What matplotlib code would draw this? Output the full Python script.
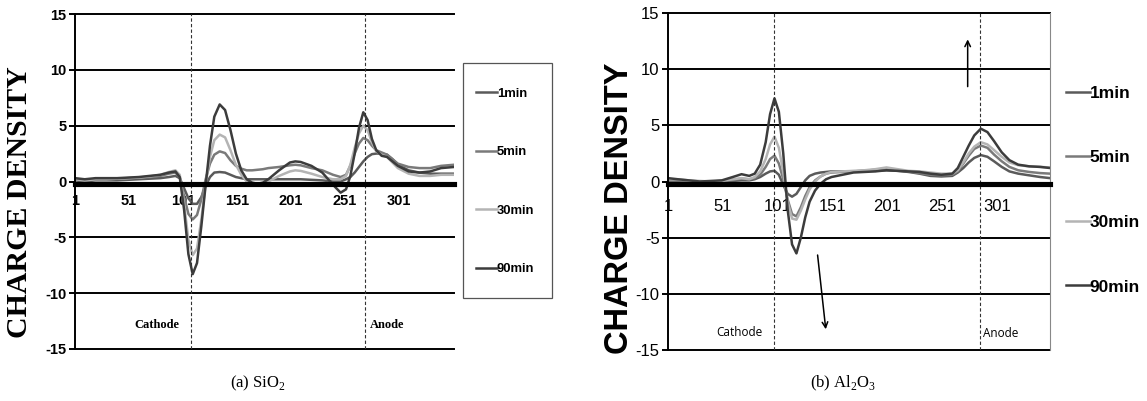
import matplotlib
matplotlib.use("Agg")
import matplotlib.pyplot as plt
from matplotlib.patches import Rectangle

plt.rcParams['mathtext.fontset'] = 'custom'
plt.rcParams['mathtext.rm'] = 'Liberation Serif'
plt.rcParams['axes.unicode_minus'] = False

series_names = ['1min', '5min', '30min', '90min']
colors = ['#5a5a5a', '#7a7a7a', '#b4b4b4', '#3c3c3c']
tick_pos = [1, 51, 101, 151, 201, 251, 301]
y_ticks = [-15, -10, -5, 0, 5, 10, 15]

# (a) SiO2
x_sio2 = [1, 10, 20, 30, 40, 50, 60, 70, 80, 88, 94, 98, 102, 106, 110, 114, 118, 122, 126, 130,
          135, 140, 145, 150, 155, 160, 165, 170, 175, 180, 190, 200, 205, 210, 220, 230, 240, 247,
          252, 256, 260, 264, 268, 272, 276, 280, 285, 290, 295, 300, 310, 320, 330, 340, 352]
sio2_1min = [0.1, 0.0, 0.1, 0.1, 0.1, 0.15, 0.2, 0.25, 0.3, 0.4, 0.5, 0.3, -0.6, -1.5, -2.0, -2.0, -1.4, -0.4, 0.4, 0.8,
             0.85, 0.8, 0.6, 0.4, 0.3, 0.2, 0.2, 0.2, 0.2, 0.2, 0.2, 0.2, 0.2, 0.2, 0.15, 0.1, 0.0, 0.0,
             0.2, 0.4, 0.8, 1.3, 1.8, 2.2, 2.45, 2.5, 2.5, 2.4, 2.0, 1.5, 1.0, 0.8, 0.7, 0.7, 0.7]
sio2_5min = [0.2, 0.1, 0.2, 0.2, 0.25, 0.3, 0.35, 0.4, 0.5, 0.7, 0.8, 0.4, -1.3, -2.9, -3.4, -3.0, -1.6, 0.2, 1.6, 2.4,
             2.7, 2.55, 1.9, 1.4, 1.15, 1.0, 1.0, 1.05, 1.1, 1.2, 1.3, 1.45, 1.5, 1.45, 1.2, 1.0, 0.6, 0.4,
             0.6, 1.4, 2.5, 3.4, 3.9, 3.7, 3.2, 2.8, 2.6, 2.4, 2.0, 1.6, 1.3, 1.2, 1.2, 1.4, 1.5]
sio2_30min = [0.2, 0.1, 0.2, 0.2, 0.25, 0.3, 0.35, 0.45, 0.6, 0.85, 1.0, 0.6, -2.0, -5.2, -6.6, -6.0, -3.4, -0.2, 2.2, 3.7,
              4.2, 3.95, 2.8, 1.5, 0.6, 0.0, -0.2, -0.3, -0.25, 0.0, 0.5, 0.9, 1.0, 0.95, 0.7, 0.4, 0.2, 0.2,
              0.5, 1.5, 3.0, 4.3, 5.0, 4.6, 3.5, 2.7, 2.4, 2.2, 1.7, 1.2, 0.7, 0.5, 0.5, 0.6, 0.6]
sio2_90min = [0.3, 0.2, 0.3, 0.3, 0.3, 0.35, 0.4, 0.5, 0.6, 0.8, 0.9, 0.4, -2.5, -6.5, -8.3, -7.3, -4.0, -0.3, 3.2, 5.8,
              6.9, 6.4, 4.6, 2.5, 1.0, 0.2, -0.1, -0.2, -0.1, 0.2, 1.0, 1.7, 1.8, 1.75, 1.4, 0.8, -0.3, -1.0,
              -0.7, 0.5, 2.5, 4.8, 6.2, 5.5, 3.8, 2.8, 2.3, 2.2, 1.8, 1.4, 0.9, 0.8, 0.9, 1.2, 1.3]

# (b) Al2O3
x_al2o3 = [1, 10, 20, 30, 40, 50, 60, 68, 75, 80, 85, 90, 94, 98, 102, 106, 110, 114, 118, 122, 126,
           130, 135, 140, 145, 150, 160, 170, 180, 190, 200, 210, 220, 230, 240, 250, 260, 265, 270,
           275, 280, 286, 292, 298, 305, 312, 320, 330, 340, 349]
al_1min = [0.0, 0.0, -0.05, -0.05, 0.0, 0.0, 0.05, 0.1, 0.1, 0.2, 0.4, 0.7, 0.9, 0.95, 0.6, -0.3, -1.1, -1.35, -1.1, -0.5, 0.1,
           0.5, 0.7, 0.8, 0.85, 0.9, 0.9, 0.9, 0.95, 0.95, 1.0, 0.95, 0.85, 0.7, 0.5, 0.45, 0.5, 0.8, 1.2,
           1.7, 2.1, 2.35, 2.2, 1.8, 1.3, 0.9, 0.7, 0.55, 0.4, 0.3]
al_5min = [0.1, 0.1, 0.0, 0.0, 0.0, 0.05, 0.15, 0.25, 0.2, 0.3, 0.6, 1.3, 2.0, 2.3, 1.6, 0.2, -1.6, -2.9, -3.1, -2.3, -1.3,
           -0.5, 0.1, 0.45, 0.7, 0.8, 0.85, 0.9, 0.95, 1.05, 1.15, 1.0, 0.9, 0.75, 0.6, 0.55, 0.6, 0.9, 1.6,
           2.3, 2.9, 3.2, 3.0, 2.4, 1.8, 1.3, 1.0, 0.85, 0.75, 0.7]
al_30min = [0.2, 0.2, 0.1, 0.05, 0.0, 0.05, 0.2, 0.3, 0.2, 0.4, 0.9, 2.0, 3.3, 4.0, 3.0, 0.8, -1.8, -3.3, -3.4, -2.6, -1.6,
            -0.7, 0.0, 0.45, 0.7, 0.85, 0.9, 0.95, 1.0, 1.1, 1.25, 1.1, 0.95, 0.9, 0.8, 0.7, 0.7, 1.0, 1.7,
            2.5, 3.1, 3.5, 3.3, 2.8, 2.2, 1.7, 1.45, 1.35, 1.3, 1.25]
al_90min = [0.3, 0.2, 0.1, 0.0, 0.05, 0.1, 0.4, 0.65, 0.5, 0.7, 1.5, 3.5, 6.0, 7.4, 6.2, 2.5, -2.5, -5.6, -6.4, -5.0, -3.2,
            -1.8, -0.8, -0.2, 0.2, 0.4, 0.6, 0.8, 0.85, 0.9, 1.0, 0.95, 0.9, 0.85, 0.7, 0.6, 0.7, 1.2, 2.2,
            3.2, 4.1, 4.7, 4.4, 3.6, 2.6, 1.9, 1.5, 1.35, 1.3, 1.2]

fig = plt.figure(figsize=(11.47, 4.01), dpi=100)
ax1 = fig.add_axes([75 / 1147, 52 / 401, 379 / 1147, 335 / 401])
ax2 = fig.add_axes([668 / 1147, 51 / 401, 382 / 1147, 337 / 401])


def style_axes(ax, xmax, bold, tick_size, xpad):
    weight = 'bold' if bold else 'normal'
    ax.set_xlim(1, xmax)
    ax.set_ylim(-15, 15)
    ax.set_yticks(y_ticks)
    ax.set_xticks(tick_pos)
    for gy in y_ticks:
        if gy != 0:
            ax.axhline(gy, color='black', lw=1.4, zorder=1, clip_on=False)
    ax.spines['top'].set_visible(False)
    ax.spines['right'].set_visible(False)
    ax.spines['left'].set_linewidth(1.4)
    ax.spines['bottom'].set_position(('data', -0.22))
    ax.spines['bottom'].set_linewidth(3.7)
    ax.spines['bottom'].set_zorder(3)
    ax.tick_params(axis='x', length=0, pad=xpad)
    ax.tick_params(axis='y', length=4, width=1.4, direction='out', pad=2)
    for lab in ax.get_xticklabels() + ax.get_yticklabels():
        lab.set_fontfamily('Liberation Sans')
        lab.set_fontweight(weight)
        lab.set_fontsize(tick_size)


# left panel
style_axes(ax1, 352, True, 10.5, 7)
for name, ys, c in zip(series_names, [sio2_1min, sio2_5min, sio2_30min, sio2_90min], colors):
    ax1.plot(x_sio2, ys, color=c, lw=1.8, label=name, zorder=2)
ax1.axvline(108, color='#333333', lw=0.8, ls=(0, (3, 2)), zorder=2)
ax1.axvline(270, color='#333333', lw=0.8, ls=(0, (3, 2)), zorder=2)
ax1.text(77, -12.85, 'Cathode', family='Liberation Serif', weight='bold', fontsize=9,
         ha='center', va='center')
ax1.text(290, -12.85, 'Anode', family='Liberation Serif', weight='bold', fontsize=9,
         ha='center', va='center')

# right panel
style_axes(ax2, 349, False, 12, 11)
ax2.spines['right'].set_visible(True)
ax2.spines['right'].set_color('#888888')
ax2.spines['right'].set_linewidth(0.8)
for name, ys, c in zip(series_names, [al_1min, al_5min, al_30min, al_90min], colors):
    ax2.plot(x_al2o3, ys, color=c, lw=1.8, label=name, zorder=2)
ax2.axvline(98, color='#333333', lw=0.8, ls=(0, (3, 2)), zorder=2)
ax2.axvline(285, color='#333333', lw=0.8, ls=(0, (3, 2)), zorder=2)
ax2.text(66, -13.4, 'Cathode', family='Open Sans', fontsize=8.5, ha='center', va='center')
ax2.text(304, -13.5, 'Anode', family='Open Sans', fontsize=8.5, ha='center', va='center')
ax2.annotate('', xy=(274, 12.9), xytext=(274, 8.2),
             arrowprops=dict(arrowstyle='->', color='black', lw=1.1))
ax2.annotate('', xy=(145, -13.4), xytext=(137, -6.3),
             arrowprops=dict(arrowstyle='->', color='black', lw=1.1))

# y labels
fig.text(20 / 1147, 1 - 202 / 401, 'CHARGE DENSITY', rotation=90, family='Liberation Serif',
         weight='bold', fontsize=21.5, ha='center', va='center')
fig.text(620 / 1147, 1 - 208 / 401, 'CHARGE DENSITY', rotation=90, family='Liberation Sans',
         weight='bold', fontsize=23.5, ha='center', va='center')

# legends
h1, l1 = ax1.get_legend_handles_labels()
fig.legend(h1, l1, loc='upper left', bbox_to_anchor=(476 / 1147, 1 - 87.5 / 401),
           frameon=False, borderpad=0, borderaxespad=0, handlelength=1.6, handletextpad=0,
           labelspacing=3.55, prop={'family': 'Liberation Sans', 'weight': 'bold', 'size': 9.4})
fig.patches.append(Rectangle((463 / 1147, 1 - 298 / 401), 89 / 1147, 235 / 401,
                             transform=fig.transFigure, fill=False, edgecolor='#555555', lw=0.9))
h2, l2 = ax2.get_legend_handles_labels()
fig.legend(h2, l2, loc='upper left', bbox_to_anchor=(1066 / 1147, 1 - 85.5 / 401),
           frameon=False, borderpad=0, borderaxespad=0, handlelength=1.36, handletextpad=0,
           labelspacing=2.85, prop={'family': 'Liberation Sans', 'weight': 'bold', 'size': 12.5})

# captions
fig.text(258 / 1147, 1 - 383 / 401, '(a) SiO$_2$', family='Liberation Serif', fontsize=12,
         ha='center', va='center')
fig.text(843 / 1147, 1 - 383 / 401, '(b) Al$_2$O$_3$', family='Liberation Serif', fontsize=12,
         ha='center', va='center')

fig.savefig('out.png', dpi=100)
